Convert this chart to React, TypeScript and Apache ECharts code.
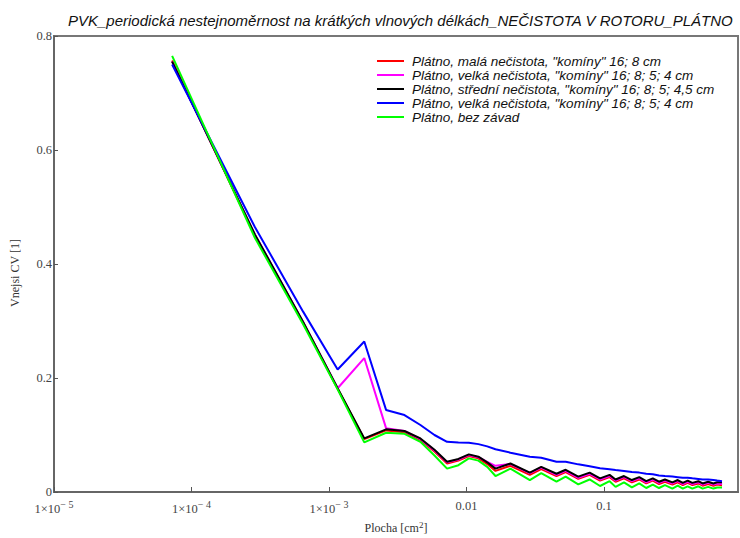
import React, { useEffect, useRef } from "react";
import * as echarts from "echarts";

// Plocha [cm2] – vertices of the curves (area of square window)
const areas = [
  7.23e-5, 2.89e-4, 6.5e-4, 1.156e-3, 1.806e-3, 2.601e-3, 3.54e-3, 4.624e-3, 5.852e-3, 7.225e-3,
  8.742e-3, 0.010404, 0.01221, 0.014161, 0.016256,
  0.02088, 0.0289, 0.03497, 0.04516, 0.05267, 0.06503, 0.07868, 0.09364, 0.10989, 0.12145,
  0.13988, 0.1596, 0.18063, 0.20295, 0.22658, 0.2515, 0.27773, 0.31472, 0.34398, 0.37454,
  0.40641, 0.43957, 0.4858, 0.52201, 0.5723, 0.6249, 0.66586, 0.7225,
];

const seriesNames = [
  'Plátno, malá nečistota, "komíny" 16; 8 cm',
  'Plátno, velká nečistota, "komíny" 16; 8; 5; 4 cm',
  'Plátno, střední nečistota, "komíny" 16; 8; 5; 4,5 cm',
  'Plátno, velká nečistota, "komíny" 16; 8; 5; 4 cm ',
  "Plátno, bez závad",
];

const redValues = [
  0.757, 0.45, 0.297, 0.181, 0.093, 0.108, 0.105, 0.091, 0.071, 0.05,
  0.055, 0.063, 0.059, 0.049, 0.037,
  0.046, 0.03, 0.04, 0.028, 0.035, 0.023, 0.03, 0.02, 0.026, 0.018,
  0.024, 0.017, 0.022, 0.015, 0.02, 0.014, 0.018, 0.013, 0.017, 0.012,
  0.016, 0.012, 0.015, 0.011, 0.014, 0.011, 0.013, 0.012,
];
const magentaValues = [
  0.755, 0.452, 0.298, 0.182, 0.235, 0.112, 0.107, 0.093, 0.073, 0.052,
  0.057, 0.065, 0.061, 0.053, 0.046,
  0.049, 0.033, 0.043, 0.03, 0.037, 0.025, 0.032, 0.022, 0.028, 0.02,
  0.026, 0.019, 0.024, 0.017, 0.022, 0.016, 0.02, 0.015, 0.019, 0.014,
  0.018, 0.014, 0.017, 0.013, 0.016, 0.013, 0.015, 0.014,
];
const blackValues = [
  0.755, 0.452, 0.298, 0.182, 0.094, 0.11, 0.107, 0.094, 0.074, 0.053,
  0.058, 0.066, 0.062, 0.052, 0.041,
  0.05, 0.034, 0.044, 0.032, 0.039, 0.027, 0.034, 0.024, 0.03, 0.022,
  0.028, 0.021, 0.026, 0.019, 0.024, 0.018, 0.022, 0.017, 0.021, 0.016,
  0.02, 0.016, 0.019, 0.015, 0.018, 0.015, 0.017, 0.017,
];
const blueValues = [
  0.75, 0.465, 0.316, 0.215, 0.264, 0.144, 0.135, 0.1175, 0.1, 0.088,
  0.087, 0.0865, 0.084, 0.08, 0.075,
  0.069, 0.062, 0.06, 0.053, 0.053, 0.0485, 0.045, 0.0415, 0.04, 0.0385,
  0.037, 0.035, 0.034, 0.032, 0.031, 0.029, 0.028, 0.027, 0.026, 0.025,
  0.025, 0.024, 0.023, 0.022, 0.022, 0.021, 0.02, 0.019,
];
const greenValues = [
  0.765, 0.446, 0.294, 0.18, 0.087, 0.104, 0.102, 0.088, 0.064, 0.041,
  0.047, 0.059, 0.055, 0.044, 0.028,
  0.041, 0.021, 0.033, 0.018, 0.027, 0.0135, 0.022, 0.0105, 0.019, 0.009,
  0.017, 0.008, 0.015, 0.007, 0.013, 0.007, 0.012, 0.006, 0.011, 0.006,
  0.01, 0.006, 0.01, 0.006, 0.009, 0.006, 0.008, 0.008,
];

const seriesValues = [redValues, magentaValues, blackValues, blueValues, greenValues];
const seriesColors = ["#ff0000", "#ff00ff", "#000000", "#0000ff", "#00ff00"];

export default function App() {
  const ref = useRef<HTMLDivElement>(null);
  useEffect(() => {
    if (!ref.current) return;
    const chart = echarts.init(ref.current, null, { renderer: "svg" });
    const serif = "'Liberation Serif', 'DejaVu Serif', serif";
    const sans = "'Liberation Sans', Arial, sans-serif";
    chart.setOption({
      animation: false,
      backgroundColor: "#ffffff",
      title: {
        text: "PVK_periodická nestejnoměrnost na krátkých vlnových délkách_NEČISTOTA V ROTORU_PLÁTNO",
        left: 63,
        top: 8,
        textStyle: {
          fontFamily: sans,
          fontStyle: "italic",
          fontWeight: "normal",
          fontSize: 15,
          color: "#111",
        },
      },
      legend: {
        orient: "vertical",
        left: 377,
        top: 54,
        padding: 0,
        icon: "rect",
        itemWidth: 27,
        itemHeight: 2,
        itemGap: 0,
        data: seriesNames,
        textStyle: {
          fontFamily: sans,
          fontStyle: "italic",
          fontSize: 13.5,
          lineHeight: 13.8,
          color: "#111",
          padding: [0, 0, 0, 3],
        },
      },
      graphic: [
        {
          type: "text",
          x: 15,
          y: 273,
          rotation: Math.PI / 2,
          style: {
            text: "Vnejsi CV [1]",
            fontFamily: serif,
            fontSize: 12,
            fill: "#333",
            align: "center",
            verticalAlign: "middle",
          },
        },
      ],
      grid: {
        left: 54,
        top: 36,
        right: 2,
        bottom: 46,
        show: true,
        borderColor: "#777",
        borderWidth: 2,
        containLabel: false,
        outerBoundsMode: "none",
      },
      xAxis: {
        type: "log",
        min: 1e-5,
        max: 0.944,
        logBase: 10,
        name: "Plocha [cm{sup|2}]",
        nameLocation: "middle",
        nameGap: 27,
        nameTextStyle: {
          fontFamily: serif,
          fontSize: 12,
          color: "#333",
          rich: {
            sup: { fontFamily: serif, fontSize: 9, padding: [0, 0, 7, 0], color: "#333" },
          },
        },
        axisLine: { lineStyle: { color: "#666", width: 2 } },
        axisTick: { inside: true, length: 5, lineStyle: { color: "#555" } },
        splitLine: { show: false },
        minorTick: { show: false },
        axisLabel: {
          showMaxLabel: false,
          margin: 7,
          fontFamily: serif,
          fontSize: 12.5,
          color: "#444",
          formatter: (v: number) => {
            const e = Math.round(Math.log10(v));
            if (e <= -3) return "1×10{sup|− " + -e + "}";
            return e === -2 ? "0.01" : e === -1 ? "0.1" : String(Math.pow(10, e));
          },
          rich: {
            sup: { fontFamily: serif, fontSize: 10, color: "#444", padding: [0, 0, 10, 0] },
          },
        },
      },
      yAxis: {
        type: "value",
        min: 0,
        max: 0.8,
        interval: 0.2,
        axisLine: { show: true, lineStyle: { color: "#666", width: 2 } },
        axisTick: { show: true, inside: true, length: 4, lineStyle: { color: "#555" } },
        splitLine: { show: false },
        axisLabel: {
          margin: 2,
          fontFamily: serif,
          fontSize: 12.5,
          color: "#444",
          formatter: (v: number) => String(Math.round(v * 10) / 10),
        },
      },
      series: seriesNames.map((name, i) => ({
        name,
        type: "line",
        symbol: "none",
        data: areas.map((a, j) => [a, seriesValues[i][j]]),
        lineStyle: { color: seriesColors[i], width: 2 },
        itemStyle: { color: seriesColors[i] },
        z: 2 + i,
      })),
    });
    return () => chart.dispose();
  }, []);
  return (
    <div
      ref={ref}
      style={{ position: "fixed", left: 0, top: 0, width: 740, height: 538, background: "#fff" }}
    />
  );
}
